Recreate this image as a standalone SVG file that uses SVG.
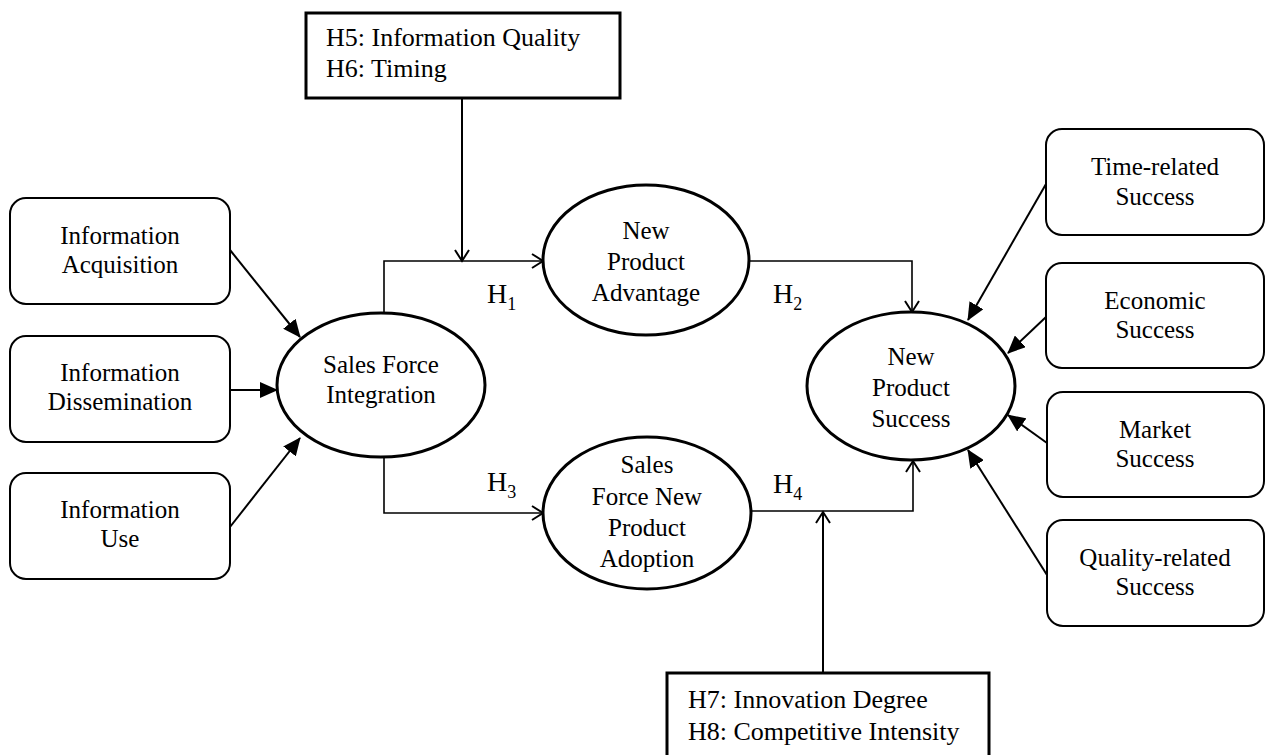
<svg xmlns="http://www.w3.org/2000/svg" width="1265" height="755" viewBox="0 0 1265 755">
<style>
.box{fill:#fff;stroke:#000;stroke-width:2}
.mod{fill:#fff;stroke:#000;stroke-width:3}
.ell{fill:#fff;stroke:#000;stroke-width:3}
.t{font-family:"Liberation Serif","Times New Roman",serif;font-size:25px;fill:#000;text-anchor:middle}
.tm{font-family:"Liberation Serif","Times New Roman",serif;font-size:26px;fill:#000}
.h{font-family:"Liberation Serif","Times New Roman",serif;font-size:28px;fill:#000}
.sub{font-size:18px}
.c{fill:none;stroke:#000;stroke-width:2}
.ce{fill:none;stroke:#000;stroke-width:1.6}
</style>
<defs>
<marker id="fa" viewBox="0 0 18 16" refX="17" refY="8" markerWidth="18" markerHeight="16" markerUnits="userSpaceOnUse" orient="auto"><path d="M0,0 L18,8 L0,16 Z" fill="#000"/></marker>
<marker id="oa" viewBox="0 0 14 16" refX="12" refY="8" markerWidth="14" markerHeight="16" markerUnits="userSpaceOnUse" orient="auto"><path d="M1,1 L12,8 L1,15" fill="none" stroke="#000" stroke-width="2"/></marker>
</defs>
<g id="connectors">
<path class="c" d="M230,250 L300,337" marker-end="url(#fa)"/>
<path class="c" d="M230,390 L277,390" marker-end="url(#fa)"/>
<path class="c" d="M230,527 L300,438" marker-end="url(#fa)"/>
<path class="ce" d="M384,313 L384,261 L543,261" marker-end="url(#oa)"/>
<path class="ce" d="M384,457 L384,513 L543,513" marker-end="url(#oa)"/>
<path class="ce" d="M750,261 L912,261 L912,312" marker-end="url(#oa)"/>
<path class="ce" d="M751,511 L913,511 L913,461" marker-end="url(#oa)"/>
<path class="c" d="M462,98 L462,261" marker-end="url(#oa)"/>
<path class="c" d="M823,673 L823,512" marker-end="url(#oa)"/>
<path class="c" d="M1046,184 L968,320" marker-end="url(#fa)"/>
<path class="c" d="M1046,317 L1008,353" marker-end="url(#fa)"/>
<path class="c" d="M1047,443 L1008,415" marker-end="url(#fa)"/>
<path class="c" d="M1047,575 L968,450" marker-end="url(#fa)"/>
</g>
<g id="mod1">
<rect class="mod" x="306" y="13" width="314" height="85"/>
<text class="tm" x="326" y="46">H5: Information Quality</text>
<text class="tm" x="326" y="77">H6: Timing</text>
</g>
<g id="mod2">
<rect class="mod" x="667" y="673" width="322" height="95"/>
<text class="tm" x="688" y="708">H7: Innovation Degree</text>
<text class="tm" x="688" y="740">H8: Competitive Intensity</text>
</g>
<g id="acq">
<rect class="box" x="10" y="198" width="220" height="106" rx="16"/>
<text class="t" x="120" y="244">Information</text>
<text class="t" x="120" y="273">Acquisition</text>
</g>
<g id="diss">
<rect class="box" x="10" y="336" width="220" height="106" rx="16"/>
<text class="t" x="120" y="381">Information</text>
<text class="t" x="120" y="410">Dissemination</text>
</g>
<g id="use">
<rect class="box" x="10" y="473" width="220" height="106" rx="16"/>
<text class="t" x="120" y="518">Information</text>
<text class="t" x="120" y="547">Use</text>
</g>
<g id="sfi">
<ellipse class="ell" cx="381" cy="385" rx="104" ry="72"/>
<text class="t" x="381" y="373">Sales Force</text>
<text class="t" x="381" y="403">Integration</text>
</g>
<g id="npa">
<ellipse class="ell" cx="646" cy="260" rx="103" ry="75"/>
<text class="t" x="646" y="239">New</text>
<text class="t" x="646" y="270">Product</text>
<text class="t" x="646" y="301">Advantage</text>
</g>
<g id="sfnpa">
<ellipse class="ell" cx="647" cy="513" rx="104" ry="76"/>
<text class="t" x="647" y="473">Sales</text>
<text class="t" x="647" y="505">Force New</text>
<text class="t" x="647" y="536">Product</text>
<text class="t" x="647" y="567">Adoption</text>
</g>
<g id="nps">
<ellipse class="ell" cx="911" cy="386" rx="104" ry="74"/>
<text class="t" x="911" y="365">New</text>
<text class="t" x="911" y="396">Product</text>
<text class="t" x="911" y="427">Success</text>
</g>
<g id="time">
<rect class="box" x="1046" y="129" width="218" height="106" rx="16"/>
<text class="t" x="1155" y="175">Time-related</text>
<text class="t" x="1155" y="205">Success</text>
</g>
<g id="econ">
<rect class="box" x="1046" y="263" width="218" height="105" rx="16"/>
<text class="t" x="1155" y="309">Economic</text>
<text class="t" x="1155" y="338">Success</text>
</g>
<g id="market">
<rect class="box" x="1047" y="392" width="217" height="105" rx="16"/>
<text class="t" x="1155" y="438">Market</text>
<text class="t" x="1155" y="467">Success</text>
</g>
<g id="quality">
<rect class="box" x="1047" y="520" width="217" height="106" rx="16"/>
<text class="t" x="1155" y="566">Quality-related</text>
<text class="t" x="1155" y="595">Success</text>
</g>
<g id="labels">
<text class="h" x="487" y="303">H<tspan class="sub" dy="7">1</tspan></text>
<text class="h" x="773" y="303">H<tspan class="sub" dy="7">2</tspan></text>
<text class="h" x="487" y="491">H<tspan class="sub" dy="7">3</tspan></text>
<text class="h" x="773" y="493">H<tspan class="sub" dy="7">4</tspan></text>
</g>
</svg>
